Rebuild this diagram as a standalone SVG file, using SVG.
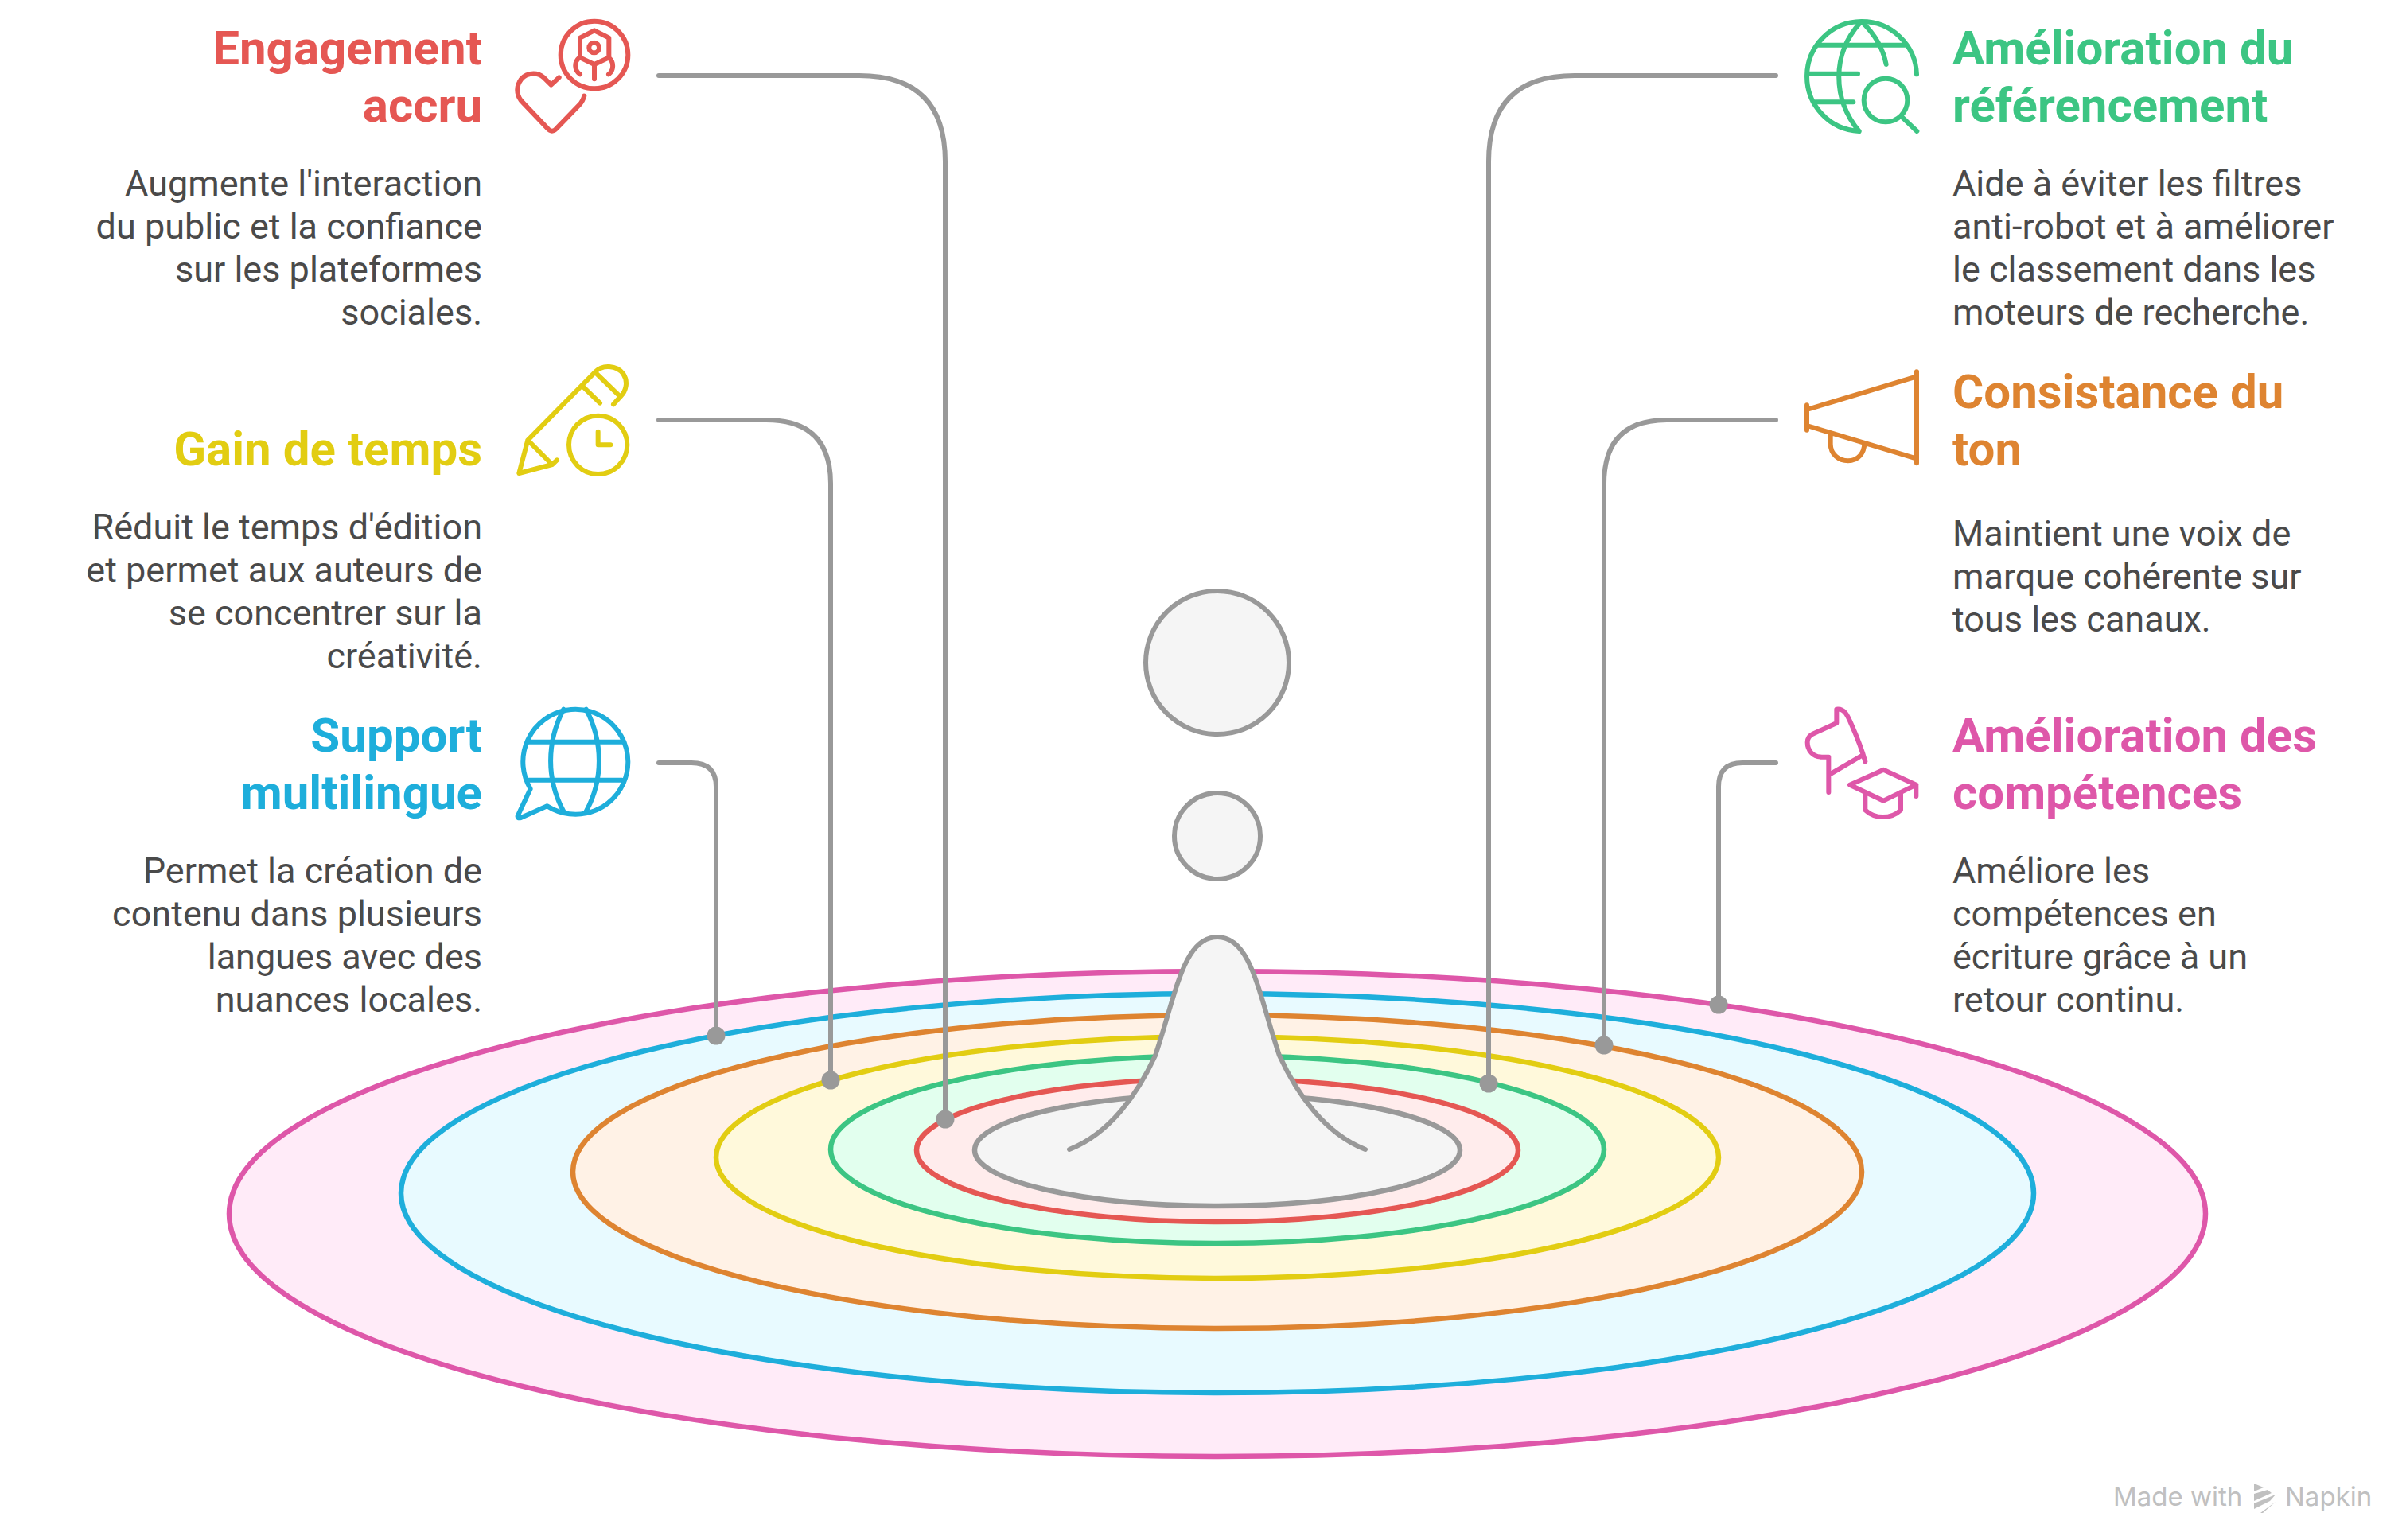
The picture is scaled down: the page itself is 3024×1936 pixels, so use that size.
<svg xmlns="http://www.w3.org/2000/svg" width="3024" height="1936" viewBox="0 0 3024 1936">
<style>
.t{font-family:Roboto,"Liberation Sans",sans-serif;font-weight:700;font-size:60px}
.b{font-family:Roboto,"Liberation Sans",sans-serif;font-weight:400;font-size:45px;fill:#4a4a4a}
.e{text-anchor:end}
.r{stroke-width:6.5}
.c{fill:none;stroke:#999;stroke-width:6;stroke-linecap:round}
.d{fill:#999}
.i{fill:none;stroke-width:18;stroke-linecap:round;stroke-linejoin:round}
</style>
<rect width="3024" height="1936" fill="#fff"/>
<g id="rings">
<ellipse id="ring-pink" class="r" cx="1530" cy="1526" rx="1242" ry="305" fill="#ffebf8" stroke="#de57a9"/>
<ellipse id="ring-blue" class="r" cx="1530" cy="1500" rx="1026" ry="251" fill="#e8faff" stroke="#1eaedb"/>
<ellipse id="ring-orange" class="r" cx="1530" cy="1473" rx="810" ry="197" fill="#fff2e6" stroke="#de8431"/>
<ellipse id="ring-yellow" class="r" cx="1530" cy="1455" rx="630" ry="152" fill="#fff9db" stroke="#e2cd12"/>
<ellipse id="ring-green" class="r" cx="1530" cy="1445" rx="486" ry="118" fill="#e2ffee" stroke="#3cc583"/>
<ellipse id="ring-red" class="r" cx="1530" cy="1446" rx="378" ry="90" fill="#ffecec" stroke="#e55753"/>
<ellipse id="ring-grey" class="r" cx="1530" cy="1446" rx="305" ry="70" fill="#f5f5f5" stroke="#999"/>
</g>
<g id="drop">
<path d="M1344 1445C1395 1425 1430 1375 1452 1327C1478 1250 1487 1178 1530 1178C1573 1178 1582 1250 1608 1327C1630 1375 1665 1425 1716 1445" fill="#f5f5f5" stroke="#999" stroke-width="6" stroke-linecap="round"/>
<circle cx="1530" cy="1051" r="54" fill="#f5f5f5" stroke="#999" stroke-width="6"/>
<circle cx="1530" cy="833" r="90" fill="#f5f5f5" stroke="#999" stroke-width="6"/>
</g>
<g id="connectors">
<path class="c" d="M828 95H1080Q1188 95 1188 203V1407"/>
<path class="c" d="M828 528H963Q1044 528 1044 608V1358"/>
<path class="c" d="M828 959H869Q900 959 900 989V1302"/>
<path class="c" d="M2232 95H1979Q1871 95 1871 203V1362"/>
<path class="c" d="M2232 528H2095Q2016 528 2016 608V1313"/>
<path class="c" d="M2232 959H2190Q2160 959 2160 989V1263"/>
<circle class="d" cx="1188" cy="1407" r="11.5"/>
<circle class="d" cx="1044" cy="1358" r="11.5"/>
<circle class="d" cx="900" cy="1302" r="11.5"/>
<circle class="d" cx="1871" cy="1362" r="11.5"/>
<circle class="d" cx="2016" cy="1314" r="11.5"/>
<circle class="d" cx="2160" cy="1263" r="11.5"/>
</g>
<g id="node-engagement">
<text class="t e" fill="#e55753" x="606" y="81">Engagement</text>
<text class="t e" fill="#e55753" x="606" y="153">accru</text>
<text class="b e" x="606" y="246">Augmente l'interaction</text>
<text class="b e" x="606" y="300">du public et la confiance</text>
<text class="b e" x="606" y="354">sur les plateformes</text>
<text class="b e" x="606" y="408">sociales.</text>
<g class="i" stroke="#e55753" transform="translate(620 0) scale(.33333)">
<path d="M248 292L218 320L190 292C160 268 115 275 98 310C85 335 90 365 110 385L205 485C215 497 228 497 238 485L325 395C335 385 340 372 343 362"/>
<circle cx="381" cy="207" r="127"/>
<path d="M381 115L436 143V217L381 243L327 217V143ZM381 243V298M322 220C305 235 305 265 327 280M438 220C455 235 455 265 435 280"/>
<circle cx="380" cy="180" r="19"/>
</g>
</g>
<g id="node-gain">
<text class="t e" fill="#e2cd12" x="606" y="585">Gain de temps</text>
<text class="b e" x="606" y="678">Réduit le temps d'édition</text>
<text class="b e" x="606" y="732">et permet aux auteurs de</text>
<text class="b e" x="606" y="786">se concentrer sur la</text>
<text class="b e" x="606" y="840">créativité.</text>
<g class="i" stroke="#e2cd12" transform="translate(620 430) scale(.33333)">
<path d="M240 445L222 462L97 495L130 370L385 112C410 85 465 85 490 120C510 150 500 185 480 205L453 235M130 370L222 462M340 170L402 230M385 115L478 205"/>
<circle cx="395" cy="388" r="110"/>
<path d="M395 338V388H442"/>
</g>
</g>
<g id="node-support">
<text class="t e" fill="#1eaedb" x="606" y="945">Support</text>
<text class="t e" fill="#1eaedb" x="606" y="1017">multilingue</text>
<text class="b e" x="606" y="1110">Permet la création de</text>
<text class="b e" x="606" y="1164">contenu dans plusieurs</text>
<text class="b e" x="606" y="1218">langues avec des</text>
<text class="b e" x="606" y="1272">nuances locales.</text>
<g class="i" stroke="#1eaedb" transform="translate(620 860) scale(.33333)">
<path d="M140 395L92 497Q90 508 104 504L203 460A198 198 0 1 0 140 395Z"/>
<path d="M265 95C200 220 200 360 265 480M350 95C415 220 415 360 350 480M130 218H485M130 362H485"/>
</g>
</g>
<g id="node-referencement">
<text class="t" fill="#3cc583" x="2454" y="81">Amélioration du</text>
<text class="t" fill="#3cc583" x="2454" y="153">référencement</text>
<text class="b" x="2454" y="246">Aide à éviter les filtres</text>
<text class="b" x="2454" y="300">anti-robot et à améliorer</text>
<text class="b" x="2454" y="354">le classement dans les</text>
<text class="b" x="2454" y="408">moteurs de recherche.</text>
<g class="i" stroke="#3cc583" transform="translate(2240 0) scale(.33333)">
<path d="M290 495A207 207 0 1 1 507 280M290 495C190 375 185 205 295 85M300 82C345 125 380 180 392 243M130 170H470M95 278H285M125 385H268M450 440L508 495"/>
<circle cx="390" cy="378" r="82"/>
</g>
</g>
<g id="node-consistance">
<text class="t" fill="#de8431" x="2454" y="513">Consistance du</text>
<text class="t" fill="#de8431" x="2454" y="585">ton</text>
<text class="b" x="2454" y="686">Maintient une voix de</text>
<text class="b" x="2454" y="740">marque cohérente sur</text>
<text class="b" x="2454" y="794">tous les canaux.</text>
<g class="i" stroke="#de8431" transform="translate(2240 450) scale(.33333)">
<path d="M507 52V397M93 178V272M93 195L507 70M93 255L507 380M182 285V325C182 365 215 388 248 388C285 388 310 360 310 320"/>
</g>
</g>
<g id="node-competences">
<text class="t" fill="#de57a9" x="2454" y="945">Amélioration des</text>
<text class="t" fill="#de57a9" x="2454" y="1017">compétences</text>
<text class="b" x="2454" y="1110">Améliore les</text>
<text class="b" x="2454" y="1164">compétences en</text>
<text class="b" x="2454" y="1218">écriture grâce à un</text>
<text class="b" x="2454" y="1272">retour continu.</text>
<g class="i" stroke="#de57a9" transform="translate(2240 870) scale(.33333)">
<path d="M175 378V245H150C115 245 95 220 95 190C95 175 100 165 115 158L205 117V65C235 62 245 85 260 120C280 165 300 215 313 262M180 310L305 237"/>
<path d="M255 350L382 293L505 350L382 410ZM505 350V393M313 378V445C350 480 410 480 447 445V378"/>
</g>
</g>
<g id="watermark" fill="#c0c0c0">
<text x="2656" y="1893" font-family="Inter,Roboto,sans-serif" font-size="33">Made with</text>
<text x="2872" y="1893" font-family="Inter,Roboto,sans-serif" font-size="33">Napkin</text>
<path d="M2833 1865L2845 1870L2833 1875ZM2833 1878L2850 1873L2855 1877L2833 1887ZM2833 1890L2860 1879L2853 1887L2833 1897ZM2841 1902L2860 1888L2844 1902Z"/>
</g>
</svg>
